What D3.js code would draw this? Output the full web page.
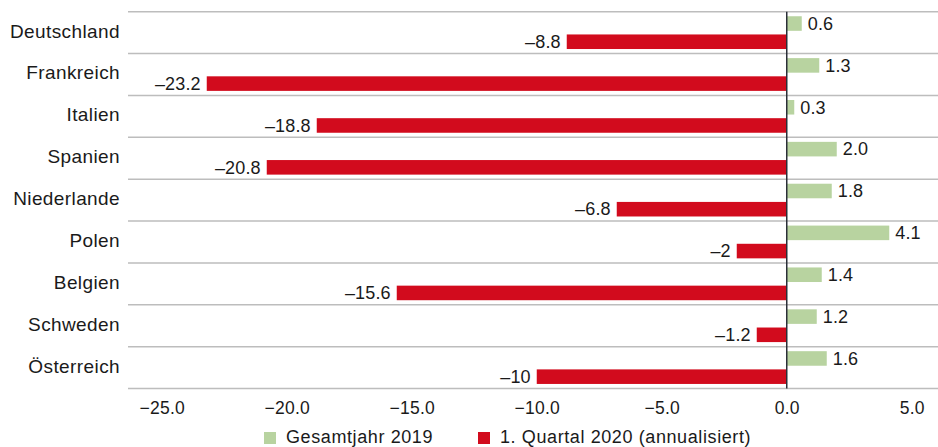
<!DOCTYPE html>
<html>
<head>
<meta charset="utf-8">
<script src="https://cdn.jsdelivr.net/npm/d3@7"></script>
<style>
  html, body { margin: 0; padding: 0; background: #fff; }
  svg { display: block; font-family: "Liberation Sans", Arial, Helvetica, sans-serif; }
</style>
</head>
<body>
<svg id="chart" width="938" height="447"></svg>
<script>
// Countries, top to bottom
const countries = ["Deutschland", "Frankreich", "Italien", "Spanien", "Niederlande", "Polen", "Belgien", "Schweden", "Österreich"];
// GDP growth, full year 2019 (%)
const year2019 = [0.6, 1.3, 0.3, 2.0, 1.8, 4.1, 1.4, 1.2, 1.6];
// GDP growth, Q1 2020 annualised (%)
const q1_2020 = [-8.8, -23.2, -18.8, -20.8, -6.8, -2, -15.6, -1.2, -10];
// Axis ticks
const xTicks = [-25, -20, -15, -10, -5, 0, 5];
const seriesNames = ["Gesamtjahr 2019", "1. Quartal 2020 (annualisiert)"];
const seriesKeys = ["y2019", "q1"];

const colors = { y2019: "#b8d3a0", q1: "#d20b1d" };
const textColor = "#1a1a1a";

const svg = d3.select("#chart");
const margin = { left: 128, right: 0, top: 11.7, bottom: 58.5 };
const W = 938, H = 447;

const x = d3.scaleLinear().domain([-26.35, 6.05]).range([margin.left, W - margin.right]);
const y = d3.scaleBand().domain(countries).range([margin.top, H - margin.bottom]);
const ySub = d3.scaleBand().domain(seriesKeys).range([0, y.bandwidth()])
  .paddingInner(0.2).paddingOuter(0.25);

const dash = s => s.replace("-", "\u2013");
const fmt2019 = v => dash(d3.format(".1f")(v));
const fmtQ1 = v => dash(String(v));
const fmtTick = v => dash(d3.format(".1f")(v));

const rows = countries.map((c, i) => ({ country: c, y2019: year2019[i], q1: q1_2020[i] }));

// Horizontal gridlines at band boundaries
const bounds = countries.map(c => y(c)).concat([y(countries[countries.length - 1]) + y.step()]);
svg.append("g").selectAll("line").data(bounds).join("line")
  .attr("x1", margin.left).attr("x2", W)
  .attr("y1", d => d).attr("y2", d => d)
  .attr("stroke", "#bdbdbd").attr("stroke-width", 1.5);

// Bars
const groups = svg.append("g").selectAll("g").data(rows).join("g")
  .attr("transform", d => `translate(0,${y(d.country)})`);

seriesKeys.forEach(k => {
  groups.append("rect")
    .attr("x", d => Math.min(x(0), x(d[k])))
    .attr("width", d => Math.abs(x(d[k]) - x(0)))
    .attr("y", ySub(k))
    .attr("height", ySub.bandwidth())
    .attr("fill", colors[k]);
});

// Value labels
groups.append("text")
  .attr("x", d => x(d.y2019) + 6)
  .attr("y", ySub("y2019") + ySub.bandwidth() / 2)
  .attr("dy", "0.35em")
  .attr("font-size", 18).attr("letter-spacing", 0.15)
  .attr("fill", textColor)
  .text(d => fmt2019(d.y2019));

groups.append("text")
  .attr("x", d => x(d.q1) - 6)
  .attr("y", ySub("q1") + ySub.bandwidth() / 2)
  .attr("dy", "0.35em")
  .attr("text-anchor", "end")
  .attr("font-size", 18).attr("letter-spacing", 0.15)
  .attr("fill", textColor)
  .text(d => fmtQ1(d.q1));

// Zero line
svg.append("line")
  .attr("x1", x(0)).attr("x2", x(0))
  .attr("y1", margin.top).attr("y2", H - margin.bottom)
  .attr("stroke", "#2b2f38").attr("stroke-width", 1.5);

// Category labels
const yAxis = d3.axisLeft(y).tickSize(0).tickPadding(0);
const yg = svg.append("g").attr("transform", `translate(${margin.left - 8},0)`).call(yAxis);
yg.select(".domain").remove();
yg.selectAll("text").attr("font-size", 19).attr("letter-spacing", 0.4).attr("fill", textColor)
  .attr("font-family", "Liberation Sans, Arial, sans-serif")
  .attr("dy", "0.26em");

// X axis tick labels
const xAxis = d3.axisBottom(x).tickValues(xTicks).tickFormat(fmtTick).tickSize(0).tickPadding(0);
const xg = svg.append("g").attr("transform", `translate(0,${H - margin.bottom + 19.5})`).call(xAxis);
xg.select(".domain").remove();
xg.selectAll("text").attr("font-size", 17.5).attr("letter-spacing", 0.2).attr("fill", textColor)
  .attr("font-family", "Liberation Sans, Arial, sans-serif")
  .attr("dy", "0.35em").attr("y", 0);

// Legend
const legendX = [264, 478];
const legend = svg.append("g").selectAll("g").data(seriesKeys).join("g")
  .attr("transform", (d, i) => `translate(${legendX[i]},432)`);
legend.append("rect").attr("width", 12).attr("height", 12).attr("fill", d => colors[d]);
legend.append("text").attr("x", 22).attr("y", 10.8)
  .attr("font-size", 18).attr("letter-spacing", 0.6).attr("fill", textColor)
  .text((d, i) => seriesNames[i]);
</script>
</body>
</html>
